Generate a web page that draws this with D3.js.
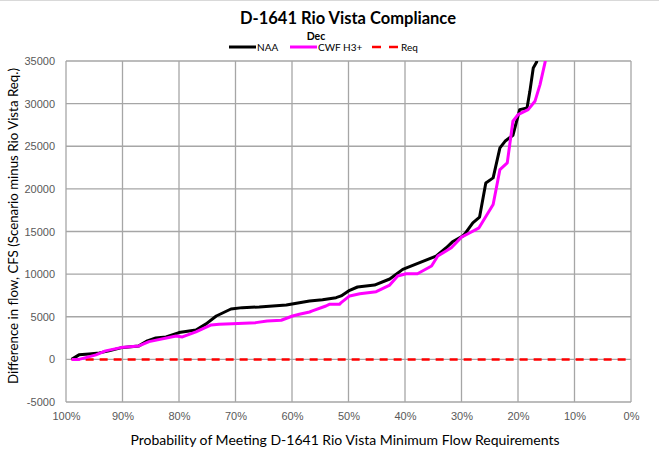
<!DOCTYPE html>
<html>
<head>
<meta charset="utf-8">
<script src="https://cdn.jsdelivr.net/npm/d3@7"></script>
<style>
  body { margin: 0; background: #fff; }
  svg { font-family: Lato, "Open Sans", sans-serif; }
</style>
</head>
<body>
<svg id="chart" width="659" height="458"></svg>
<script>
// Exceedance probability (%) and difference in flow (cfs)
const naaPct = [99.0, 97.7, 95.9, 94.1, 92.4, 90.3, 87.1, 85.6, 84.1, 82.3, 80.0, 77.0, 75.2, 73.4, 70.8, 68.8, 65.8, 61.0, 58.7, 56.9, 54.6, 52.2, 51.3, 49.8, 48.4, 45.4, 42.7, 40.4, 37.4, 34.5, 32.7, 31.6, 29.8, 29.4, 28.0, 26.8, 25.7, 24.4, 23.2, 22.3, 20.9, 19.7, 18.4, 17.9, 17.3, 16.7, 15.8];
const naaVal = [0, 530, 640, 760, 1000, 1350, 1580, 2170, 2520, 2630, 3140, 3450, 4160, 5090, 5910, 6070, 6150, 6380, 6650, 6850, 7000, 7240, 7440, 8100, 8490, 8720, 9430, 10560, 11340, 12120, 13090, 13790, 14460, 14730, 16020, 16690, 20700, 21290, 24800, 25580, 26290, 29300, 29490, 31440, 34170, 34870, 40000];

const cwfPct = [99.0, 97.7, 96.5, 94.7, 93.0, 90.3, 87.1, 85.3, 80.5, 79.4, 77.0, 74.3, 72.9, 70.6, 66.4, 64.4, 61.9, 59.9, 58.7, 56.9, 56.4, 54.0, 53.4, 51.6, 51.3, 49.8, 48.0, 45.1, 42.7, 41.3, 39.8, 37.8, 35.3, 34.2, 31.8, 30.0, 28.5, 26.9, 24.4, 23.2, 21.9, 20.9, 20.0, 18.2, 17.0, 16.1, 15.2, 14.3];
const cwfVal = [0, 0, 210, 530, 1000, 1380, 1580, 2080, 2750, 2630, 3220, 4040, 4120, 4190, 4310, 4510, 4590, 5090, 5290, 5560, 5680, 6260, 6460, 6460, 6650, 7440, 7700, 7940, 8720, 9780, 10050, 10050, 10950, 12120, 13090, 14340, 14850, 15430, 18170, 22270, 23050, 27930, 28710, 29300, 30270, 32230, 34870, 39000];

const reqPct = [99.0, 0];
const reqVal = [0, 0];

const xTicks = [100, 90, 80, 70, 60, 50, 40, 30, 20, 10, 0];
const yTicks = [-5000, 0, 5000, 10000, 15000, 20000, 25000, 30000, 35000];

const series = [
  { name: "NAA", pct: naaPct, val: naaVal, color: "#000000", dash: null, width: 3 },
  { name: "CWF H3+", pct: cwfPct, val: cwfVal, color: "#ff00ff", dash: null, width: 3 },
  { name: "Req", pct: reqPct, val: reqVal, color: "#ff0000", dash: "8,6", width: 2.5 }
];

const svg = d3.select("#chart");
const margin = { left: 66, right: 28, top: 61, bottom: 56 };
const W = 659, H = 458;

const x = d3.scaleLinear().domain([100, 0]).range([margin.left, W - margin.right]);
const y = d3.scaleLinear().domain([-5000, 35000]).range([H - margin.bottom, margin.top]);

// top chart border
svg.append("line")
  .attr("x1", 0).attr("x2", W).attr("y1", 0.5).attr("y2", 0.5)
  .attr("stroke", "#d9d9d9").attr("stroke-width", 1);

// gridlines
svg.append("g")
  .selectAll("line")
  .data(yTicks)
  .enter()
  .append("line")
  .attr("x1", x(100)).attr("x2", x(0))
  .attr("y1", d => y(d)).attr("y2", d => y(d))
  .attr("stroke", "#a6a6a6").attr("stroke-width", 1.3);

svg.append("g")
  .selectAll("line")
  .data(xTicks)
  .enter()
  .append("line")
  .attr("x1", d => x(d)).attr("x2", d => x(d))
  .attr("y1", y(35000)).attr("y2", y(-5000))
  .attr("stroke", "#a6a6a6").attr("stroke-width", 1.3);

// axes labels
const xAxis = d3.axisBottom(x).tickValues(xTicks).tickSize(0).tickPadding(10).tickFormat(d => d + "%");
const gx = svg.append("g").attr("transform", `translate(0,${y(-5000)})`).call(xAxis);
gx.select(".domain").remove();
gx.selectAll("text").attr("fill", "#595959").style("font-size", "11px");

const yAxis = d3.axisLeft(y).tickValues(yTicks).tickSize(0).tickPadding(11).tickFormat(d => d);
const gy = svg.append("g").attr("transform", `translate(${x(100)},0)`).call(yAxis);
gy.select(".domain").remove();
gy.selectAll("text").attr("fill", "#595959").style("font-size", "11px");

// clip for the lines
svg.append("defs").append("clipPath").attr("id", "plot-clip")
  .append("rect")
  .attr("x", x(100)).attr("y", y(35000))
  .attr("width", x(0) - x(100)).attr("height", y(-5000) - y(35000));

const line = d3.line().x(d => x(d[0])).y(d => y(d[1]));

const drawOrder = [series[2], series[0], series[1]];
svg.append("g").attr("clip-path", "url(#plot-clip)")
  .selectAll("path")
  .data(drawOrder)
  .enter()
  .append("path")
  .attr("d", s => line(s.pct.map((p, i) => [p, s.val[i]])))
  .attr("fill", "none")
  .attr("stroke", s => s.color)
  .attr("stroke-width", s => s.width)
  .attr("stroke-dasharray", s => s.dash)
  .attr("stroke-linejoin", "round");

// title
svg.append("text")
  .attr("x", 348).attr("y", 24)
  .attr("text-anchor", "middle")
  .attr("font-weight", "bold")
  .style("font-size", "16.5px")
  .attr("fill", "#000")
  .text("D-1641 Rio Vista Compliance");

svg.append("text")
  .attr("x", 316).attr("y", 40)
  .attr("text-anchor", "middle")
  .attr("font-weight", "bold")
  .style("font-size", "10.5px")
  .attr("fill", "#000")
  .text("Dec");

// legend
const legendX = [229, 290, 372];
const legend = svg.append("g")
  .selectAll("g")
  .data(series)
  .enter()
  .append("g")
  .attr("transform", (d, i) => `translate(${legendX[i]},47)`);

legend.append("line")
  .attr("x1", 0).attr("x2", 27).attr("y1", 0).attr("y2", 0)
  .attr("stroke", d => d.color)
  .attr("stroke-width", d => d.width)
  .attr("stroke-dasharray", d => d.dash ? "9,8" : null);

legend.append("text")
  .attr("x", (d, i) => i === 2 ? 29 : 28).attr("y", 3.5)
  .style("font-size", "10px")
  .attr("fill", "#000")
  .text(d => d.name);

// axis titles
svg.append("text")
  .attr("x", 345).attr("y", 445)
  .attr("text-anchor", "middle")
  .style("font-size", "14px")
  .attr("fill", "#000")
  .text("Probability of Meeting D-1641 Rio Vista Minimum Flow Requirements");

svg.append("text")
  .attr("transform", "translate(18,226) rotate(-90)")
  .attr("text-anchor", "middle")
  .style("font-size", "13.3px")
  .attr("fill", "#000")
  .text("Difference in flow, CFS (Scenario minus Rio Vista Req.)");
</script>
</body>
</html>
